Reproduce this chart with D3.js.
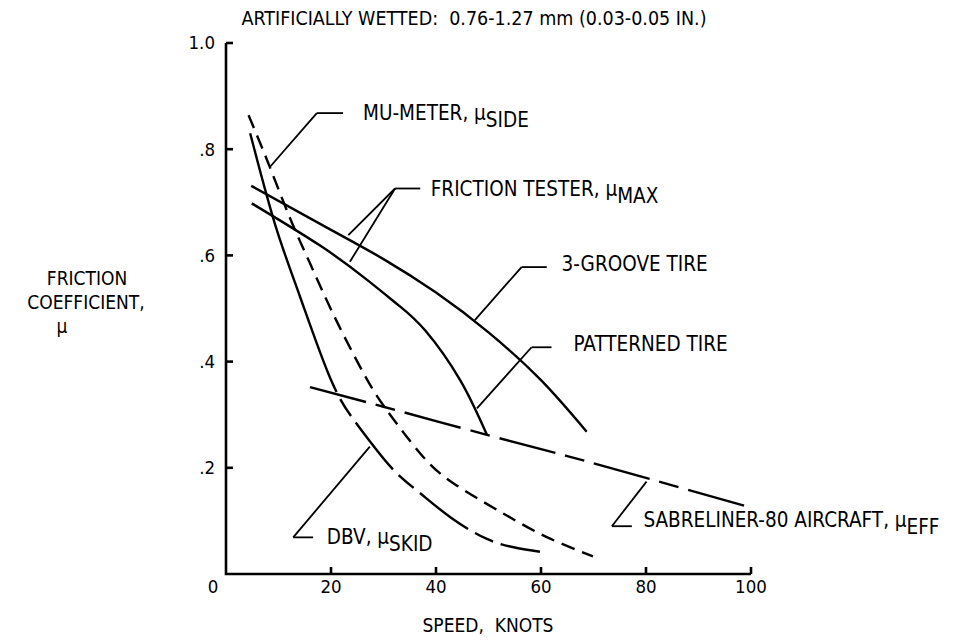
<!DOCTYPE html>
<html>
<head>
<meta charset="utf-8">
<title>Friction coefficient vs speed</title>
<style>
  body { margin: 0; background: #fff; }
  svg text { font-family: "Liberation Sans Narrow", "DejaVu Sans Condensed", sans-serif; font-size: 20.5px; fill: #000; white-space: pre; }
  svg text.tick { font-size: 18.5px; }
  svg text.title { font-size: 19.5px; }
  svg text.axis-title { font-size: 19px; }
  .axis-line { stroke: #000; stroke-width: 2.6px; fill: none; }
  .curve { fill: none; stroke: #000; stroke-width: 2.4px; }
  .leader { fill: none; stroke: #000; stroke-width: 1.8px; }
</style>
</head>
<body>
<svg width="961" height="642"></svg>
<script src="https://d3js.org/d3.v7.min.js"></script>
<script>
// speed in knots, friction coefficient
var grooveSpeed = [4.8, 20, 30, 40, 50, 60, 68.7];
var grooveMu    = [0.731, 0.648, 0.593, 0.53, 0.455, 0.365, 0.268];

var patternSpeed = [4.9, 18, 27, 33, 38, 44.6, 49.7];
var patternMu    = [0.698, 0.618, 0.553, 0.505, 0.458, 0.365, 0.262];

var sabreSpeed = [16, 30, 49.7, 65, 80, 100];
var sabreMu    = [0.352, 0.315, 0.262, 0.222, 0.181, 0.125];

var dbvSpeed = [4.6, 9.3, 14, 19.8, 24, 27.4, 32, 37, 43, 49.7, 55, 59.8];
var dbvMu    = [0.83, 0.66, 0.525, 0.37, 0.295, 0.25, 0.195, 0.152, 0.105, 0.066, 0.05, 0.042];

var muMeterSpeed = [4.3, 8, 12.2, 16, 20.4, 26.2, 30.6, 37, 43.3, 52.8, 61, 69.9];
var muMeterMu    = [0.864, 0.775, 0.67, 0.585, 0.49, 0.378, 0.309, 0.227, 0.171, 0.114, 0.07, 0.033];

var xTicks = [20, 40, 60, 80, 100];
var yTicks = [0.2, 0.4, 0.6, 0.8, 1.0];
var yTickLabels = [".2", ".4", ".6", ".8", "1.0"];

// label text, subscript, text position, elbow, leader targets (all in data units)
var notes = [
  {text: "MU-METER, \u03bc", sub: "SIDE", at: [26.1, 0.868], elbow: [17.3, 0.868], end: 22.3, targets: [[8.4, 0.767]]},
  {text: "FRICTION TESTER, \u03bc", sub: "MAX", at: [39.0, 0.726], elbow: [32.2, 0.726], end: 37.0, targets: [[23.3, 0.638], [23.6, 0.588]]},
  {text: "3-GROOVE TIRE", sub: "", at: [63.9, 0.585], elbow: [56.3, 0.578], end: 61.1, targets: [[47.4, 0.478]]},
  {text: "PATTERNED TIRE", sub: "", at: [66.2, 0.434], elbow: [58.2, 0.427], end: 62.0, targets: [[47.8, 0.312]]},
  {text: "SABRELINER-80 AIRCRAFT, \u03bc", sub: "EFF", at: [79.5, 0.102], elbow: [73.5, 0.090], end: 77.3, targets: [[80.1, 0.174]]},
  {text: "DBV, \u03bc", sub: "SKID", at: [19.2, 0.070], elbow: [12.8, 0.069], end: 16.6, targets: [[27.4, 0.24]]}
];

var svg = d3.select("svg");

var x = d3.scaleLinear().domain([0, 100]).range([226, 751]);
var y = d3.scaleLinear().domain([0, 1]).range([574, 43]);

function pairs(xs, ys) {
    return xs.map(function(v, i) { return [v, ys[i]]; });
}

var line = d3.line()
    .x(function(d) { return x(d[0]); })
    .y(function(d) { return y(d[1]); })
    .curve(d3.curveNatural);

// axes
svg.append("path")
    .attr("class", "axis-line")
    .attr("d", "M" + x(0) + "," + y(1) + "V" + y(0) + "H" + x(100));

svg.append("g").selectAll("line")
    .data(yTicks).enter().append("line")
    .attr("class", "axis-line")
    .attr("x1", x(0)).attr("x2", x(0) + 7)
    .attr("y1", d => y(d)).attr("y2", d => y(d));

svg.append("g").selectAll("text")
    .data(yTicks).enter().append("text")
    .attr("class", "tick")
    .attr("x", x(0) - 11)
    .attr("y", d => y(d))
    .attr("dy", "0.35em")
    .attr("text-anchor", "end")
    .text((d, i) => yTickLabels[i]);

svg.append("g").selectAll("line")
    .data(xTicks).enter().append("line")
    .attr("class", "axis-line")
    .attr("x1", d => x(d)).attr("x2", d => x(d))
    .attr("y1", y(0)).attr("y2", y(0) - 7);

svg.append("g").selectAll("text")
    .data(xTicks).enter().append("text")
    .attr("class", "tick")
    .attr("x", d => x(d))
    .attr("y", y(0) + 13)
    .attr("dy", "0.35em")
    .attr("text-anchor", "middle")
    .text(d => d);

svg.append("text")
    .attr("class", "tick")
    .attr("x", x(0) - 13).attr("y", y(0) + 13)
    .attr("dy", "0.35em").attr("text-anchor", "middle")
    .text("0");

// axis titles
svg.append("text")
    .attr("class", "axis-title")
    .attr("x", 488).attr("y", 625).attr("dy", "0.35em")
    .attr("text-anchor", "middle")
    .text("SPEED,  KNOTS");

var ylab = svg.append("text").attr("class", "axis-title").attr("text-anchor", "middle");
ylab.append("tspan").attr("x", 87).attr("y", 285).text("FRICTION");
ylab.append("tspan").attr("x", 86).attr("y", 309).text("COEFFICIENT,");
ylab.append("tspan").attr("x", 62).attr("y", 333).text("\u03bc");

svg.append("text")
    .attr("class", "title")
    .attr("x", 474).attr("y", 18).attr("dy", "0.35em")
    .attr("text-anchor", "middle")
    .text("ARTIFICIALLY WETTED:  0.76-1.27 mm (0.03-0.05 IN.)");

// curves
svg.append("path").attr("class", "curve")
    .attr("d", line(pairs(grooveSpeed, grooveMu)));

svg.append("path").attr("class", "curve")
    .attr("d", line(pairs(patternSpeed, patternMu)));

svg.append("path").attr("class", "curve")
    .attr("stroke-dasharray", "58,10,20,10")
    .attr("d", line(pairs(sabreSpeed, sabreMu)));

svg.append("path").attr("class", "curve")
    .attr("stroke-dasharray", "14,8")
    .attr("d", line(pairs(muMeterSpeed, muMeterMu)));

// DBV: solid at low speed, long-short dashes after
var dbvPath = svg.append("path").attr("class", "curve")
    .attr("d", line(pairs(dbvSpeed, dbvMu)));
var total = dbvPath.node().getTotalLength();
var solidLen = 0;
for (var l = 0; l < total; l += 1) {
    if (dbvPath.node().getPointAtLength(l).x >= x(21)) { solidLen = l; break; }
}
var pattern = [solidLen];
var acc = solidLen;
while (acc < total + 100) {
    [8, 20, 8, 60].forEach(function(v) { pattern.push(v); acc += v; });
}
dbvPath.attr("stroke-dasharray", pattern.join(","));

// annotations
notes.forEach(function(n) {
    var g = svg.append("g");
    var ex = x(n.elbow[0]), ey = y(n.elbow[1]);
    g.append("line").attr("class", "leader")
        .attr("x1", ex).attr("y1", ey).attr("x2", x(n.end)).attr("y2", ey);
    n.targets.forEach(function(t) {
        g.append("line").attr("class", "leader")
            .attr("x1", ex).attr("y1", ey).attr("x2", x(t[0])).attr("y2", y(t[1]));
    });
    var t = g.append("text")
        .attr("x", x(n.at[0])).attr("y", y(n.at[1])).attr("dy", "0.35em");
    t.append("tspan").text(n.text);
    if (n.sub) t.append("tspan").attr("dy", 7).text(n.sub);
});
</script>
</body>
</html>
